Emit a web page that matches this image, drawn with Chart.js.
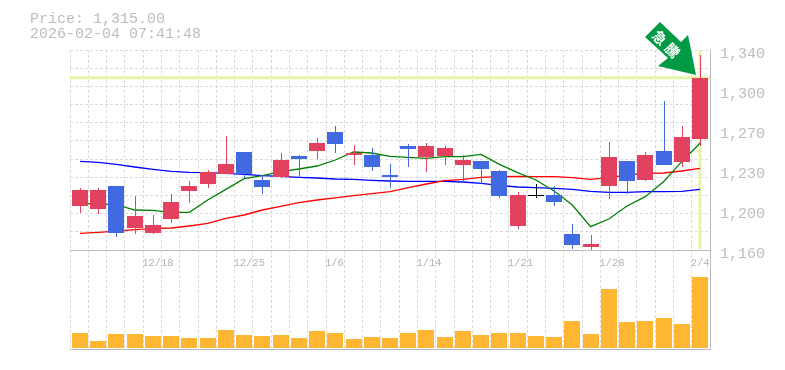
<!DOCTYPE html>
<html>
<head>
<meta charset="utf-8">
<style>
  html, body { margin: 0; padding: 0; background: #fff; }
  #wrap { width: 785px; height: 370px; }
</style>
<script src="https://cdn.jsdelivr.net/npm/chart.js@4/dist/chart.umd.min.js"></script>
</head>
<body>
<div id="wrap"><canvas id="stock" width="785" height="370"></canvas></div>
<script>
const priceTitle = 'Price: 1,315.00'
const timeTitle = '2026-02-04 07:41:48'
const arrowText = ['急', '騰']

const lastPrice = 1315
const priceTicks = [1340, 1304, 1268, 1232, 1196, 1160]
const priceLabels = ['1,340', '1,300', '1,270', '1,230', '1,200', '1,160']
const dateIndex = [4, 9, 14, 19, 24, 29, 34]
const dateLabels = ['12/18', '12/25', '1/6', '1/14', '1/21', '1/28', '2/4']

const openP = [1199.6, 1196.9, 1217.6, 1179.8, 1175.3, 1187.9, 1213.1, 1219.4, 1228.4, 1248.2, 1223, 1225.7, 1244.6, 1249.1, 1266.2, 1245.5, 1245.5, 1227.5, 1253.6, 1243.7, 1244.6, 1236.5, 1240.1, 1231.1, 1181.6, 1208.6, 1209.5, 1174.4, 1162.7, 1217.6, 1240.1, 1223, 1249.1, 1239.2, 1259.9]
const closeP = [1214, 1214, 1175.3, 1190.6, 1182.5, 1203.2, 1217.6, 1230.2, 1237.4, 1228.4, 1216.7, 1241, 1241.9, 1256.3, 1255.4, 1247.3, 1234.7, 1225.7, 1250.9, 1253.6, 1251.8, 1241, 1232.9, 1208.6, 1209.5, 1208.6, 1203.2, 1164.5, 1165.4, 1243.7, 1222.1, 1245.5, 1236.5, 1261.7, 1315]
const highP = [1215.8, 1215.8, 1217.6, 1208.6, 1191.5, 1210.4, 1222.1, 1232, 1262.6, 1248.2, 1227.5, 1247.3, 1245.5, 1260.8, 1271.6, 1254.5, 1251.8, 1237.4, 1255.4, 1256.3, 1253.6, 1245.5, 1240.1, 1232, 1212.2, 1219.4, 1217.6, 1183.4, 1173.5, 1257.2, 1240.1, 1248.2, 1294, 1271.6, 1335.5]
const lowP = [1193.3, 1192.4, 1171.7, 1174.4, 1174.4, 1184.3, 1202.3, 1215.8, 1228.4, 1224.8, 1210.4, 1224.8, 1224.8, 1241.9, 1247.3, 1236.5, 1231.1, 1215.8, 1234.7, 1230.2, 1236.5, 1222.1, 1219.4, 1206.8, 1178.9, 1206.8, 1199.6, 1160.9, 1159.1, 1205.9, 1210.4, 1222.1, 1236.5, 1234.7, 1253.6]

const maShort = [1202, 1201.4, 1200.8, 1196, 1195.7, 1193.9, 1193.9, 1205, 1214.6, 1224.2, 1226.9, 1230.5, 1232.9, 1235.6, 1241, 1248.2, 1247.3, 1244.3, 1243.4, 1242.5, 1244, 1244, 1246.1, 1237.1, 1229.6, 1223, 1213.1, 1200.5, 1181, 1187.9, 1199.6, 1208, 1221.5, 1239.5, 1256]
const maMid = [1175, 1175.9, 1177, 1178.3, 1179.2, 1179.8, 1181.6, 1184, 1188.5, 1191.5, 1196, 1199.3, 1202.6, 1205, 1207, 1208.9, 1210.7, 1212.5, 1216.1, 1219.4, 1222.4, 1223.6, 1225.4, 1226, 1226.3, 1226, 1226, 1225.1, 1223.6, 1225.1, 1227.5, 1229, 1229.3, 1231.1, 1233.5]
const maLong = [1239.8, 1238.9, 1237.1, 1234.7, 1232.6, 1230.8, 1229.9, 1229.6, 1229, 1228.1, 1226.9, 1226.3, 1225.4, 1224.8, 1223.9, 1223.6, 1222.7, 1222.1, 1221.8, 1221.8, 1221.8, 1221.2, 1220, 1218.2, 1216.7, 1216.1, 1215.5, 1214.6, 1212.8, 1211.9, 1211.9, 1212.5, 1212.5, 1212.8, 1214.6]
const volumes = [15, 7, 14, 14, 12, 12, 10, 10, 18, 13, 12, 13, 10, 17, 15, 9, 11, 10, 15, 18, 11, 17, 13, 15, 15, 12, 11, 27, 14, 59, 26, 27, 30, 24, 71]

const RED = '#e2425f'
const BLUE = '#4169e1'
const GRAY = '#bdbdbd'
const YELLOW = '#e4f5a5'
const xMin = -0.55
const xMax = 34.55
const cell = (xMax - xMin) / 35

const candleColor = openP.map((o, i) => {
  if (Math.abs(o - closeP[i]) < 0.5) return '#000000'
  return closeP[i] > o ? RED : BLUE
})

// snap the bars to whole pixels, the original has no antialiasing on them
const snapBars = {
  id: 'snapBars',
  beforeDatasetsDraw(chart) {
    chart.data.datasets.forEach((ds, n) => {
      if (ds.type !== 'bar') return
      chart.getDatasetMeta(n).data.forEach(el => {
        el.x = Math.round(el.x) + (ds.barThickness === 1 ? 0.5 : 0)
        el.y = Math.round(el.y)
        el.base = Math.round(el.base)
        if (el.y === el.base) el.base = el.y + 1
      })
    })
  }
}

// frame lines and the header text
const frame = {
  id: 'frame',
  afterDraw(chart) {
    const { ctx, chartArea: a, scales } = chart
    const mid = Math.round(scales.y.getPixelForValue(1160)) + 0.5
    ctx.save()
    ctx.strokeStyle = GRAY
    ctx.lineWidth = 1
    ctx.beginPath()
    ctx.moveTo(a.left, mid)
    ctx.lineTo(a.right, mid)
    ctx.moveTo(a.left, a.bottom - 0.5)
    ctx.lineTo(a.right + 0.5, a.bottom - 0.5)
    ctx.moveTo(a.right + 0.5, a.top)
    ctx.lineTo(a.right + 0.5, a.bottom)
    ctx.stroke()

    ctx.fillStyle = GRAY
    ctx.font = '15px "Liberation Mono"'
    ctx.textBaseline = 'alphabetic'
    ctx.fillText(priceTitle, 30, 23)
    ctx.fillText(timeTitle, 30, 38)

    // arrow
    ctx.fillStyle = '#009944'
    ctx.beginPath()
    ctx.moveTo(660, 22)
    ctx.lineTo(681, 42)
    ctx.lineTo(688, 35)
    ctx.lineTo(696, 75)
    ctx.lineTo(658, 66)
    ctx.lineTo(668, 58)
    ctx.lineTo(645, 37)
    ctx.closePath()
    ctx.fill()

    ctx.fillStyle = '#fff'
    ctx.font = 'bold 14px "Noto Sans CJK JP"'
    ctx.textAlign = 'center'
    ctx.textBaseline = 'middle'
    ctx.translate(666, 44)
    ctx.rotate(Math.PI / 4)
    ctx.fillText(arrowText[0], -9, 0)
    ctx.fillText(arrowText[1], 9, 0)
    ctx.restore()
  }
}

const gridStyle = { color: '#dcdcdc', lineWidth: 1, drawTicks: false }
const xy = arr => arr.map((v, i) => ({ x: i, y: v }))

const maLine = (label, data, color) => ({
  type: 'line', label, data: xy(data), borderColor: color, borderWidth: 1.3,
  pointRadius: 0, tension: 0, order: 5
})

new Chart(document.getElementById('stock'), {
  data: {
    datasets: [
      { type: 'bar', label: 'volume', data: xy(volumes), yAxisID: 'yVol', backgroundColor: '#ffb733', barThickness: 16, grouped: false, inflateAmount: 0, order: 2 },
      { type: 'bar', label: 'body', data: openP.map((o, i) => ({ x: i, y: [o, closeP[i]] })), backgroundColor: candleColor, barThickness: 16, minBarLength: 1, grouped: false, inflateAmount: 0, order: 1 },
      { type: 'bar', label: 'wick', data: lowP.map((l, i) => ({ x: i, y: [l, highP[i]] })), backgroundColor: candleColor, barThickness: 1, grouped: false, inflateAmount: 0, order: 1.5 },
      maLine('ma short', maShort, '#008000'),
      maLine('ma mid', maMid, '#ff0000'),
      maLine('ma long', maLong, '#0000ff'),
      { type: 'line', label: 'last', data: [{ x: xMin, y: lastPrice }, { x: xMax, y: lastPrice }], borderColor: YELLOW, borderWidth: 3, pointRadius: 0, order: 8 },
      { type: 'line', label: 'now', data: [{ x: 34, y: 1339 }, { x: 34, y: 1161 }], borderColor: YELLOW, borderWidth: 3, pointRadius: 0, order: 8 }
    ]
  },
  options: {
    responsive: false,
    animation: false,
    events: [],
    layout: { padding: { left: 70, top: 50, right: 0, bottom: 20 } },
    plugins: { legend: { display: false }, tooltip: { enabled: false } },
    scales: {
      x: {
        type: 'linear', min: xMin, max: xMax, offset: false,
        grid: { ...gridStyle, offset: false },
        border: { display: false, dash: [3, 2] },
        ticks: { display: false },
        afterBuildTicks: s => { s.ticks = Array.from({ length: 36 }, (_, k) => ({ value: xMin + k * cell })) },
        afterFit: s => { s.height = 0 }
      },
      xDates: {
        type: 'linear', axis: 'x', min: xMin, max: xMax, offset: false,
        position: { y: 1160 },
        grid: { display: false, drawTicks: false },
        border: { display: false },
        afterBuildTicks: s => { s.ticks = dateIndex.map(k => ({ value: xMin + k * cell })) },
        ticks: {
          color: '#b4b4b4', align: 'start', maxRotation: 0, autoSkip: false, padding: 7, labelOffset: -1,
          font: { family: 'Liberation Mono', size: 10.5 },
          callback: (v, i) => dateLabels[i]
        }
      },
      y: {
        type: 'linear', min: 1070, max: 1340,
        grid: gridStyle,
        border: { display: false, dash: [3, 2] },
        ticks: { display: false },
        afterBuildTicks: s => { s.ticks = Array.from({ length: 12 }, (_, k) => ({ value: 1160 + k * 180 / 11 })) },
        afterFit: s => { s.width = 0 }
      },
      yLabels: {
        type: 'linear', position: 'right', min: 1070, max: 1340,
        grid: { display: false, drawTicks: false },
        border: { display: false },
        afterBuildTicks: s => { s.ticks = priceTicks.map(v => ({ value: v })) },
        ticks: {
          color: GRAY, padding: 10, labelOffset: 4,
          font: { family: 'Liberation Mono', size: 15 },
          callback: (v, i) => priceLabels[i]
        },
        afterFit: s => { s.width = 75 }
      },
      yVol: {
        type: 'linear', display: false, min: -2, max: 298
      }
    }
  },
  plugins: [snapBars, frame]
})
</script>
</body>
</html>
